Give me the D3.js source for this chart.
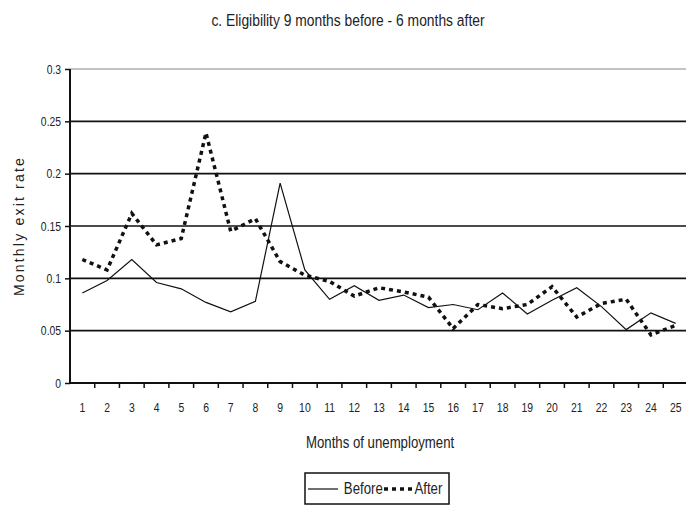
<!DOCTYPE html>
<html>
<head>
<meta charset="utf-8">
<script src="https://cdn.jsdelivr.net/npm/d3@7"></script>
<style>
  body { margin: 0; background: #fff; }
  svg text { font-family: "Liberation Sans", Arial, sans-serif; fill: #222; }
  /* the original uses a narrow face, squeeze the text */
  svg text.narrow { transform-box: fill-box; transform-origin: center; transform: scaleX(0.8); }
  svg text.title { transform: scaleX(0.84); }
</style>
</head>
<body>
<div id="chart"></div>
<script>
// chart size
var svgWidth = 686;
var svgHeight = 506;

// plot area
var plot = { left: 70, right: 688, top: 69, bottom: 383 };

// data
var months = d3.range(1, 26);
var beforeRate = [0.086, 0.098, 0.118, 0.096, 0.090, 0.077, 0.068, 0.078, 0.191, 0.108,
                  0.080, 0.093, 0.079, 0.084, 0.072, 0.075, 0.070, 0.086, 0.066, 0.079,
                  0.091, 0.073, 0.051, 0.067, 0.057];
var afterRate = [0.118, 0.108, 0.162, 0.132, 0.138, 0.239, 0.145, 0.157, 0.116, 0.103,
                 0.097, 0.083, 0.091, 0.087, 0.082, 0.052, 0.075, 0.071, 0.075, 0.092,
                 0.063, 0.076, 0.080, 0.046, 0.055];
var yTicks = [0, 0.05, 0.1, 0.15, 0.2, 0.25, 0.3];
var yTickLabels = ["0", "0.05", "0.1", "0.15", "0.2", "0.25", "0.3"];

var svg = d3.select("#chart")
  .append("svg")
  .attr("width", svgWidth)
  .attr("height", svgHeight);

var x = d3.scaleBand()
  .domain(months)
  .range([plot.left, plot.right]);

var y = d3.scaleLinear()
  .domain([0, 0.3])
  .range([plot.bottom, plot.top]);

// gridlines
svg.append("g")
  .selectAll("line")
  .data(yTicks.filter(d => d > 0))
  .enter()
  .append("line")
  .attr("x1", plot.left)
  .attr("x2", plot.right)
  .attr("y1", d => y(d))
  .attr("y2", d => y(d))
  .attr("stroke", d => d === 0.3 ? "#888" : "#111")
  .attr("stroke-width", d => d === 0.3 ? 1 : 1.6);

// y axis
var leftAxis = d3.axisLeft(y)
  .tickValues(yTicks)
  .tickFormat((d, i) => yTickLabels[i])
  .tickSize(5)
  .tickPadding(4);

var yAxis = svg.append("g")
  .attr("transform", `translate(${plot.left}, 0)`)
  .call(leftAxis);
yAxis.select(".domain").attr("stroke", "#111").attr("stroke-width", 2)
  .attr("d", `M0,${plot.top}V${plot.bottom}`);
yAxis.selectAll(".tick line").attr("stroke", "#111").attr("stroke-width", 1.5);
yAxis.selectAll("text")
  .attr("font-size", 13)
  .attr("fill", "#444")
  .style("transform-box", "fill-box")
  .style("transform-origin", "right center")
  .style("transform", "scaleX(0.8)");

// x axis - ticks sit between the categories
var bottomAxis = d3.axisBottom(x)
  .tickSize(0)
  .tickPadding(20);

var xAxis = svg.append("g")
  .attr("transform", `translate(0, ${plot.bottom})`)
  .call(bottomAxis);
xAxis.select(".domain").attr("stroke", "#111").attr("stroke-width", 2)
  .attr("d", `M${plot.left},0H${plot.right}`);
xAxis.selectAll("text").attr("font-size", 13).attr("fill", "#333").classed("narrow", true);

xAxis.selectAll(".between")
  .data(months.slice(1))
  .enter()
  .append("line")
  .attr("x1", d => x(d))
  .attr("x2", d => x(d))
  .attr("y1", 0)
  .attr("y2", 5)
  .attr("stroke", "#111")
  .attr("stroke-width", 1.5);

// lines
var line = d3.line()
  .x((d, i) => x(months[i]) + x.bandwidth() / 2)
  .y(d => y(d));

svg.append("path")
  .datum(beforeRate)
  .attr("fill", "none")
  .attr("stroke", "#111")
  .attr("stroke-width", 1.2)
  .attr("d", line);

svg.append("path")
  .datum(afterRate)
  .attr("fill", "none")
  .attr("stroke", "#111")
  .attr("stroke-width", 3.5)
  .attr("stroke-dasharray", "4,4")
  .attr("d", line);

// titles
svg.append("text")
  .attr("x", 348)
  .attr("y", 26)
  .attr("text-anchor", "middle")
  .attr("font-size", 16.5)
  .classed("narrow title", true)
  .text("c. Eligibility 9 months before - 6 months after");

svg.append("text")
  .attr("x", 380)
  .attr("y", 448)
  .attr("text-anchor", "middle")
  .attr("font-size", 16.5)
  .classed("narrow", true)
  .text("Months of unemployment");

svg.append("text")
  .attr("transform", `translate(24, ${(plot.top + plot.bottom) / 2}) rotate(-90)`)
  .attr("text-anchor", "middle")
  .attr("font-size", 14)
  .attr("letter-spacing", 2.2)
  .text("Monthly exit rate");

// legend
var legend = svg.append("g").attr("transform", "translate(305, 473)");
legend.append("rect")
  .attr("width", 144)
  .attr("height", 31)
  .attr("fill", "#fff")
  .attr("stroke", "#111")
  .attr("stroke-width", 1.5);
legend.append("line")
  .attr("x1", 3).attr("x2", 33).attr("y1", 16).attr("y2", 16)
  .attr("stroke", "#111").attr("stroke-width", 1.2);
legend.append("text")
  .attr("x", 34).attr("y", 21).attr("font-size", 16.5).classed("narrow", true).text("Before");
legend.append("line")
  .attr("x1", 79).attr("x2", 107).attr("y1", 16).attr("y2", 16)
  .attr("stroke", "#111").attr("stroke-width", 3.5).attr("stroke-dasharray", "4,4");
legend.append("text")
  .attr("x", 106).attr("y", 21).attr("font-size", 16.5).classed("narrow", true).text("After");
</script>
</body>
</html>
